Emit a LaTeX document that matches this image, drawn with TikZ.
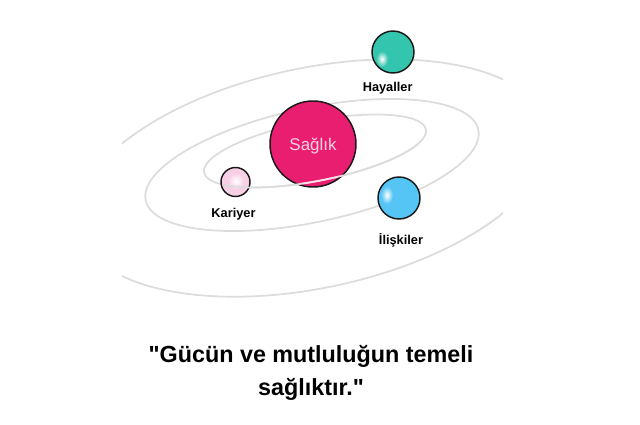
\documentclass[tikz,border=0pt]{standalone}
\usepackage{fontspec}
\setmainfont{Liberation Sans}[Ligatures=TeXOff]
\usetikzlibrary{positioning}
\definecolor{orbitgray}{HTML}{DCDCDC}
\definecolor{saglikpink}{HTML}{E91E70}
\definecolor{saglikfont}{HTML}{FAD2E3}
\definecolor{hayalteal}{HTML}{33C5AD}
\definecolor{iliskiblue}{HTML}{55C5F5}
\definecolor{kariyerpink}{HTML}{F7D0E6}
\begin{document}
\begin{tikzpicture}[x=0.75pt,y=-0.75pt,
    orbit/.style={draw=orbitgray,line width=1.3pt},
    planet/.style={draw=black!90,circle,line width=1.1pt,inner sep=0pt},
    planetlabel/.style={font=\bfseries\fontsize{9.6}{11}\selectfont,inner sep=0pt,text height=7pt,text depth=2pt},
    quote/.style={font=\bfseries\fontsize{17.5}{24.75}\selectfont,align=center}]
    \useasboundingbox (0,0) rectangle (640,425);
    % orbits
    \begin{scope}
        \clip (122,0) rectangle (503,425);
        \draw[orbit,rotate around={12:(313,178)}] (313,178) ellipse [x radius=241,y radius=110];
    \end{scope}
    \draw[orbit,rotate around={12:(312,165)}] (312,165) ellipse [x radius=170,y radius=57];
    \draw[orbit,rotate around={11:(315,151)}] (315,151) ellipse [x radius=113,y radius=30];
    % planets
    \node[planet,fill=saglikpink,minimum size=64.5pt,text=saglikfont,font=\fontsize{12.7}{14}\selectfont,text depth=0pt](saglik) at (313,144) {Sağlık};
    \node[planet,fill=hayalteal,minimum size=31.5pt](hayaller) at (393,52) {};
    \node[planet,fill=iliskiblue,minimum size=31.5pt](iliskiler) at (399,198) {};
    \node[planet,fill=kariyerpink,minimum size=21.75pt](kariyer) at (235.5,182) {};
    \shade[inner color=white,outer color=hayalteal] (382,59) ellipse [x radius=6,y radius=8];
    \shade[inner color=white,outer color=iliskiblue] (387,195) ellipse [x radius=6,y radius=9];
    \shade[inner color=white,outer color=kariyerpink] (236,181) ellipse [x radius=8,y radius=8];
    % front part of the inner orbit
    \begin{scope}[shift={(315,151)},rotate=11]
        \draw[orbit] (20:113 and 30) arc[start angle=20,end angle=148,x radius=113,y radius=30];
    \end{scope}
    \begin{scope}
        \clip (saglik) circle [radius=41];
        \begin{scope}[shift={(315,151)},rotate=11]
            \draw[orbit,draw=white!85!saglikpink] (20:113 and 30) arc[start angle=20,end angle=148,x radius=113,y radius=30];
        \end{scope}
    \end{scope}
    % labels
    \node[planetlabel](hayallerlbl)[below=6pt of hayaller,xshift=-4pt]{Hayaller};
    \node[planetlabel](kariyerlbl)[below=8pt of kariyer,xshift=-1.5pt]{Kariyer};
    \node[planetlabel](iliskilerlbl)[below=11pt of iliskiler,xshift=1.5pt]{İlişkiler};
    \node[quote](motto) at (311,373) {"Gücün ve mutluluğun temeli\\ sağlıktır."};
\end{tikzpicture}
\end{document}
